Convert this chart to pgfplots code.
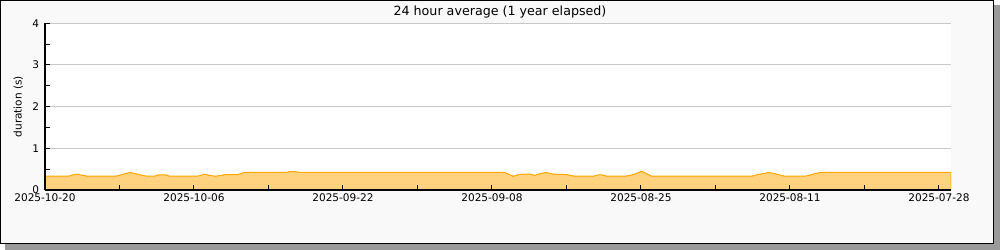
\documentclass[border=0pt]{standalone}
\usepackage{pgfplots}
\pgfplotsset{compat=1.18}
\usepackage{fontspec}
\setmainfont{DejaVu Sans}
\definecolor{bgc}{HTML}{F9F9F9}
\definecolor{shadowc}{HTML}{9A9A9A}
\definecolor{gridc}{HTML}{C8C8C8}
\definecolor{linec}{HTML}{FFA500}
\definecolor{fillc}{HTML}{FFD27F}
\begin{document}
\begin{tikzpicture}
\useasboundingbox (0,0) rectangle (750pt,187.5pt);
\fill[shadowc] (3.75pt,0pt) rectangle (750pt,183.75pt);
\filldraw[fill=bgc,draw=black,line width=0.75pt] (0.375pt,4.875pt) rectangle (745.1pt,187.125pt);
\begin{axis}[
  at={(33.75pt,45pt)}, anchor=south west,
  scale only axis, width=679.5pt, height=125pt,
  xmin=0, xmax=85.13, ymin=0, ymax=4,
  axis lines*=left,
  axis line style={black, line width=0.75pt},
  axis background/.style={fill=white},
  axis on top,
  tick align=inside,
  major tick length=4pt, minor tick length=3.5pt,
  tick style={black, line width=0.75pt},
  xtick={0,14,28,42,56,70,84},
  xticklabels={2025-10-20,2025-10-06,2025-09-22,2025-09-08,2025-08-25,2025-08-11,2025-07-28},
  minor xtick={7,21,35,49,63,77},
  ytick={0,1,2,3,4},
  minor ytick={0.5,1.5,2.5,3.5},
  ymajorgrids,
  major grid style={gridc, line width=0.75pt},
  /pgf/number format/assume math mode=true,
  ticklabel style={font=\fontsize{7.9pt}{9pt}\selectfont},
  xticklabel style={yshift=1pt},
  yticklabel style={xshift=-1pt},
  ylabel={duration (s)},
  ylabel style={font=\fontsize{7.9pt}{9pt}\selectfont},
]
\addplot[draw=linec, line width=0.75pt, fill=fillc] coordinates {
(0,0.33) (2.2,0.33) (2.6,0.36) (3.0,0.38) (3.6,0.35) (4.0,0.33) (6.6,0.33)
(7.0,0.35) (7.5,0.39) (8.0,0.42) (8.5,0.39) (9.0,0.36) (9.6,0.33) (10.3,0.33)
(10.6,0.36) (11.4,0.36) (11.7,0.33) (14.3,0.33) (14.6,0.35) (15.0,0.38) (15.5,0.35)
(16.0,0.33) (16.5,0.35) (17.0,0.37) (18.1,0.37) (18.7,0.42) (22.6,0.42) (23.0,0.44)
(23.5,0.44) (24.0,0.42) (43.2,0.42) (44.0,0.33) (44.5,0.37) (45.0,0.38) (45.6,0.38)
(46.0,0.35) (46.5,0.39) (47.1,0.42) (47.8,0.38) (49.0,0.37) (49.8,0.33) (51.5,0.33)
(52.0,0.36) (52.4,0.36) (52.8,0.33) (54.5,0.33) (55.3,0.37) (56.1,0.45) (57.0,0.33)
(66.4,0.33) (66.8,0.36) (68.0,0.42) (68.6,0.39) (69.5,0.33) (71.4,0.33) (71.9,0.36)
(72.6,0.41) (73.0,0.42) (85.13,0.42)
} \closedcycle;
\end{axis}
\node[font=\fontsize{9.5pt}{11pt}\selectfont] at (375pt,178.5pt) {24 hour average (1 year elapsed)};
\end{tikzpicture}
\end{document}
